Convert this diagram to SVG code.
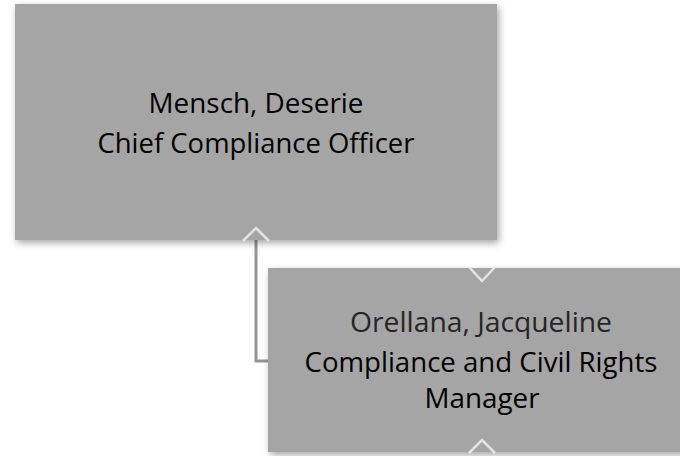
<svg xmlns="http://www.w3.org/2000/svg" width="680" height="456" viewBox="0 0 680 456">
<style>
.box{fill:#a5a5a5;filter:url(#sh)}
.t{font-family:"Open Sans","Noto Sans","Liberation Sans",sans-serif;font-size:27.5px;fill:#000;text-anchor:middle}
.t1{fill:#262626}
.chev{fill:none;stroke:#eeeeee;stroke-width:2.5;stroke-linejoin:miter;opacity:0.85}
.conn{fill:none;stroke:#959595;stroke-width:3}
</style>
<defs>
<filter id="sh" x="-10%" y="-10%" width="120%" height="130%">
<feDropShadow dx="2" dy="3" stdDeviation="3.5" flood-color="#000" flood-opacity="0.35"/>
</filter>
</defs>
<g id="connectors">
<path class="conn" d="M256,240 V361 H268"/>
</g>
<g id="node-mensch">
<rect class="box" x="15" y="4" width="482" height="236"/>
<text class="t" x="256" y="113" textLength="215" lengthAdjust="spacingAndGlyphs">Mensch, Deserie</text>
<text class="t" x="256" y="153" textLength="317" lengthAdjust="spacingAndGlyphs">Chief Compliance Officer</text>
<path class="chev" d="M243,241 L256,228 L269,241"/>
</g>
<g id="node-orellana">
<rect class="box" x="268" y="268" width="428" height="184"/>
<text class="t t1" x="481" y="332" textLength="262" lengthAdjust="spacingAndGlyphs">Orellana, Jacqueline</text>
<text class="t" x="481" y="372" textLength="353" lengthAdjust="spacingAndGlyphs">Compliance and Civil Rights</text>
<text class="t" x="482" y="408" textLength="115" lengthAdjust="spacingAndGlyphs">Manager</text>
<path class="chev" d="M469,267 L482,281 L495,267"/>
<path class="chev" d="M469,453 L482,440 L495,453"/>
</g>
</svg>
